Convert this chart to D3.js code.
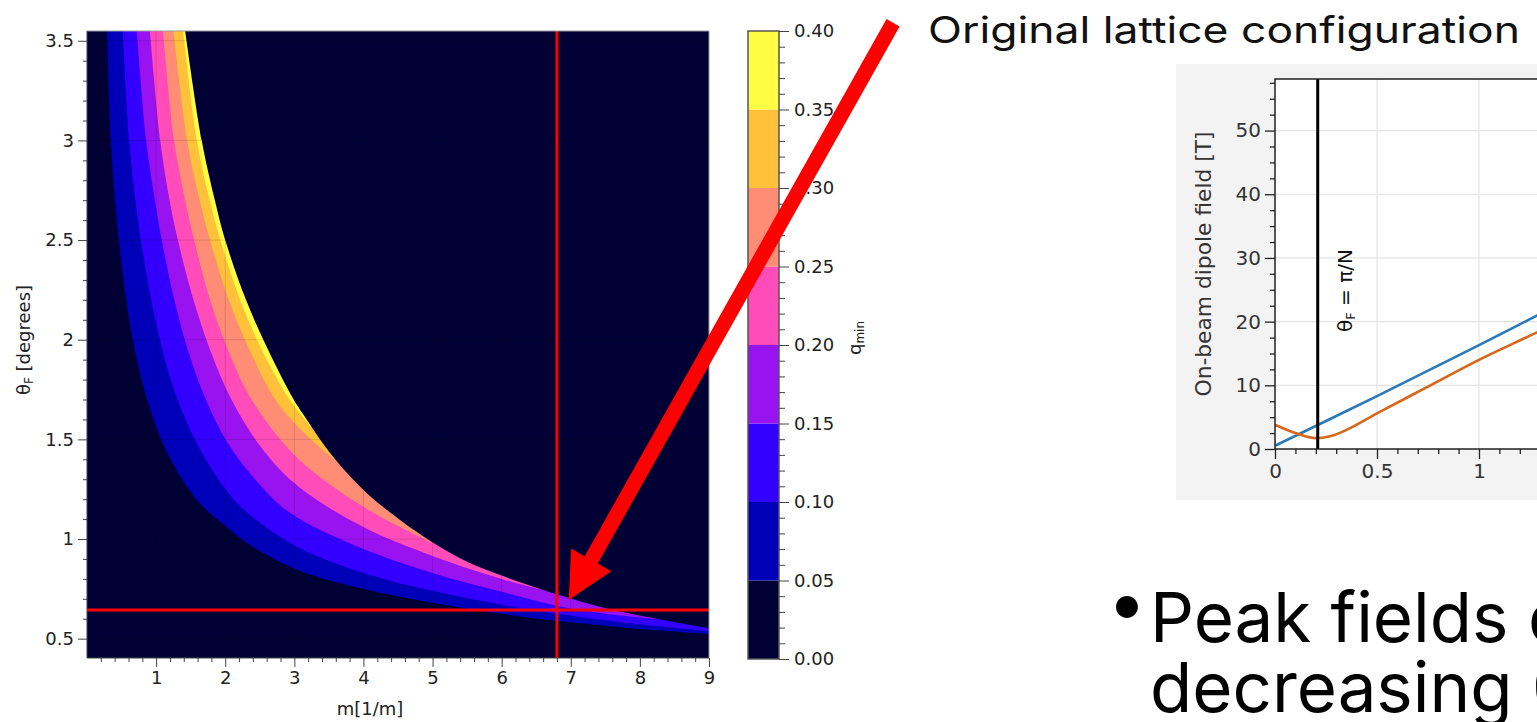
<!DOCTYPE html>
<html>
<head>
<meta charset="utf-8">
<script src="https://cdn.jsdelivr.net/npm/d3@7"></script>
<style>
    body { margin: 0; background: #fff; overflow: hidden; }
    svg { display: block; }
</style>
</head>
<body>
<div id="chart"></div>
<script>
// ---- data ----
// contour levels of q_min and the m/theta boundary of each band (m [1/m], theta_F [deg])
let qLevels = [0, 0.05, 0.10, 0.15, 0.20, 0.25, 0.30, 0.35, 0.40];
let q05 = [[0.29,3.55],[0.345,3.0],[0.405,2.7],[0.46,2.5],[0.567,2.2],[0.69,1.95],[0.87,1.70],[1.135,1.45],[1.58,1.2],[2.02,1.06],[2.36,0.97],[3.08,0.841],[4.0,0.75],[5.0,0.68],[6.0,0.625],[6.8,0.59],[7.8,0.555],[9.0,0.523]];
let q10 = [[0.517,3.55],[0.61,3.0],[0.70,2.7],[0.78,2.5],[0.93,2.2],[1.09,1.95],[1.31,1.70],[1.635,1.45],[2.12,1.2],[2.55,1.07],[3.08,0.954],[4.0,0.83],[5.0,0.74],[6.0,0.67],[6.8,0.625],[7.8,0.58],[9.0,0.538]];
let q15 = [[0.72,3.55],[0.857,3.0],[0.983,2.7],[1.083,2.5],[1.263,2.2],[1.458,1.95],[1.72,1.70],[2.095,1.45],[2.70,1.2],[3.06,1.104],[4.0,0.95],[5.0,0.83],[6.0,0.735],[6.8,0.665],[7.5,0.625],[8.2,0.60]];
let q20 = [[0.91,3.55],[1.06,3.0],[1.195,2.7],[1.315,2.5],[1.54,2.2],[1.78,1.95],[2.09,1.70],[2.54,1.45],[3.06,1.263],[4.0,1.06],[5.0,0.915],[6.0,0.80],[6.6,0.745]];
let q25 = [[1.10,3.55],[1.26,3.0],[1.42,2.7],[1.55,2.5],[1.78,2.2],[2.04,1.95],[2.38,1.70],[2.93,1.447],[3.45,1.29],[4.2,1.12],[5.0,0.98]];
let q30 = [[1.25,3.55],[1.45,3.0],[1.63,2.7],[1.78,2.5],[2.05,2.2],[2.35,1.95],[2.725,1.70],[3.05,1.564],[3.40,1.45],[3.65,1.38]];
let q35 = [[1.39,3.55],[1.59,3.0],[1.775,2.7],[1.93,2.5],[2.215,2.2],[2.53,1.95],[2.93,1.70],[3.24,1.565]];
// edge of the valid region (upper right is empty)
let cutoff = [[1.42,3.55],[1.66,3.0],[1.85,2.7],[2.0,2.5],[2.30,2.2],[2.62,1.95],[2.99,1.70],[3.12,1.63],[3.56,1.413],[4.05,1.23],[4.53,1.096],[5.02,0.979],[5.50,0.886],[5.98,0.819],[6.46,0.761],[6.94,0.708],[7.42,0.66],[7.91,0.622],[8.39,0.59],[9.0,0.553]];
let contours = [q05, q10, q15, q20, q25, q30, q35];

// original lattice point
let mOrig = 6.8;
let thetaOrig = 0.644;
let arrowTip = [6.97, 0.694];

let mTicks = [1, 2, 3, 4, 5, 6, 7, 8, 9];
let thetaTicks = [0.5, 1, 1.5, 2, 2.5, 3, 3.5];
let qTicks = [0, 0.05, 0.10, 0.15, 0.20, 0.25, 0.30, 0.35, 0.40];

// inset: on-beam dipole field vs theta_F
let blueX = [0, 0.25, 0.5, 0.75, 1.0, 1.25, 1.5];
let blueField = [0.5, 4.4, 8.3, 12.3, 16.3, 20.4, 24.5];
let orangeX = [0, 0.1, 0.2, 0.27, 0.35, 0.5, 0.75, 1.0, 1.25, 1.5];
let orangeField = [3.8, 2.5, 1.7, 2.0, 3.0, 5.6, 9.8, 14.0, 17.8, 21.6];
let piOverN = Math.PI / 15;
let insetXTicks = [0, 0.5, 1];
let insetYTicks = [0, 10, 20, 30, 40, 50];

let bandColors = ["#000035", "#0000b8", "#3300ff", "#9913f0", "#ff4cb8", "#ff8c75", "#ffc13a", "#fffc43"];

// ---- svg ----
let width = 1537, height = 722;
let svg = d3.select("#chart").append("svg").attr("width", width).attr("height", height)
            .style("font-family", "'DejaVu Sans', sans-serif");

// ---------- left contour plot ----------
let xScale = d3.scaleLinear().domain([0, 9]).range([87, 709]);
let yScale = d3.scaleLinear().domain([0.403, 3.549]).range([658, 31]);

svg.append("clipPath").attr("id", "plotClip").append("rect")
    .attr("x", 87).attr("y", 31).attr("width", 622).attr("height", 627);

let plot = svg.append("g").attr("clip-path", "url(#plotClip)");

plot.append("rect").attr("x", 87).attr("y", 31).attr("width", 622).attr("height", 627)
    .attr("fill", bandColors[0]);

let contourLine = d3.line().x(d => xScale(d[0])).y(d => yScale(d[1])).curve(d3.curveCatmullRom.alpha(0.5));

function regionPath(pts) {
    let first = pts[0], last = pts[pts.length - 1];
    return contourLine(pts) +
        `L${xScale(9.4)},${yScale(last[1])}L${xScale(9.4)},${yScale(3.9)}L${xScale(first[0])},${yScale(3.9)}Z`;
}

plot.selectAll("path.band").data(contours).enter().append("path")
    .attr("class", "band")
    .attr("d", d => regionPath(d))
    .attr("fill", (d, i) => bandColors[i + 1]);

plot.append("path").attr("d", regionPath(cutoff)).attr("fill", bandColors[0]);

// faint grid
plot.selectAll("line.vg").data(mTicks).enter().append("line")
    .attr("x1", d => xScale(d)).attr("x2", d => xScale(d)).attr("y1", 31).attr("y2", 658)
    .attr("stroke", "#000").attr("stroke-opacity", 0.13);
plot.selectAll("line.hg").data(thetaTicks).enter().append("line")
    .attr("x1", 87).attr("x2", 709).attr("y1", d => yScale(d)).attr("y2", d => yScale(d))
    .attr("stroke", "#000").attr("stroke-opacity", 0.13);

// red lines for the original lattice
plot.append("line").attr("x1", 87).attr("x2", 709)
    .attr("y1", yScale(thetaOrig)).attr("y2", yScale(thetaOrig))
    .attr("stroke", "#ff0000").attr("stroke-width", 3);
plot.append("line").attr("x1", xScale(mOrig)).attr("x2", xScale(mOrig))
    .attr("y1", 31).attr("y2", 658)
    .attr("stroke", "#ff0000").attr("stroke-width", 3);

// frame
svg.append("path").attr("d", "M87,31H709V658").attr("fill", "none").attr("stroke", "#999");

// axes
let xMinor = d3.range(1, 45).map(k => k / 5).filter(v => Math.abs(v - Math.round(v)) > 1e-6);
let yMinor = d3.range(6, 36).map(k => k / 10).filter(v => Math.abs(v * 2 - Math.round(v * 2)) > 1e-6);

let xAxis = d3.axisBottom(xScale).tickValues(mTicks).tickSize(9).tickPadding(4).tickFormat(d => d);
let xAxisMinor = d3.axisBottom(xScale).tickValues(xMinor).tickSize(4).tickFormat("");
let yAxis = d3.axisLeft(yScale).tickValues(thetaTicks).tickSize(9).tickPadding(4).tickFormat(d => d);
let yAxisMinor = d3.axisLeft(yScale).tickValues(yMinor).tickSize(4).tickFormat("");

let gx = svg.append("g").attr("transform", "translate(0,658)").call(xAxis);
svg.append("g").attr("transform", "translate(0,658)").call(xAxisMinor);
let gy = svg.append("g").attr("transform", "translate(87,0)").call(yAxis);
svg.append("g").attr("transform", "translate(87,0)").call(yAxisMinor);

svg.selectAll(".domain").attr("stroke", "#444");
svg.selectAll(".tick line").attr("stroke", "#444");
svg.selectAll(".tick text").attr("fill", "#222").style("font-size", "18px").style("font-family", "'DejaVu Sans', sans-serif");

// axis titles
svg.append("text").attr("x", 370).attr("y", 715).attr("text-anchor", "middle")
    .style("font-size", "18px").attr("fill", "#222").text("m[1/m]");

let yTitle = svg.append("text").attr("transform", "translate(30,340) rotate(-90)")
    .attr("text-anchor", "middle").style("font-size", "18px").attr("fill", "#222");
yTitle.append("tspan").text("θ");
yTitle.append("tspan").attr("baseline-shift", "-25%").style("font-size", "12px").text("F");
yTitle.append("tspan").text(" [degrees]");

// ---------- colorbar ----------
let cScale = d3.scaleLinear().domain([0, 0.4]).range([659, 31]);
let bands = d3.range(qLevels.length - 1);

svg.selectAll("rect.cb").data(bands).enter().append("rect")
    .attr("class", "cb")
    .attr("x", 748).attr("width", 31)
    .attr("y", i => cScale(qLevels[i + 1]))
    .attr("height", i => cScale(qLevels[i]) - cScale(qLevels[i + 1]))
    .attr("fill", i => bandColors[i]);

svg.append("rect").attr("x", 748).attr("y", 31).attr("width", 31).attr("height", 628)
    .attr("fill", "none").attr("stroke", "#555").attr("stroke-width", 1.5);

let cMinor = d3.range(1, 40).map(k => k / 100).filter((v, i) => (i + 1) % 5 !== 0);
let cAxis = d3.axisRight(cScale).tickValues(qTicks).tickSize(10).tickPadding(5).tickFormat(d3.format(".2f"));
let cAxisMinor = d3.axisRight(cScale).tickValues(cMinor).tickSize(6).tickFormat("");
let gc = svg.append("g").attr("transform", "translate(779,0)").call(cAxis);
svg.append("g").attr("transform", "translate(779,0)").call(cAxisMinor);
svg.selectAll(".domain").remove();
svg.selectAll(".tick line").attr("stroke", "#444");
gc.selectAll(".tick text").attr("fill", "#222").style("font-size", "18px").style("font-family", "'DejaVu Sans', sans-serif");

let cTitle = svg.append("text").attr("transform", "translate(861,338) rotate(-90)")
    .attr("text-anchor", "middle").style("font-size", "18px").attr("fill", "#222");
cTitle.append("tspan").text("q");
cTitle.append("tspan").attr("baseline-shift", "-25%").style("font-size", "12px").text("min");

// redraw plot axis lines (domains removed above)
svg.append("path").attr("d", "M87,31V658H709").attr("fill", "none").attr("stroke", "#444");

// ---------- red arrow ----------
let tip = [xScale(arrowTip[0]), yScale(arrowTip[1])];
let u = [0.49, -0.872], n = [0.872, 0.49];
function pt(s, t) { return [tip[0] + u[0] * s + n[0] * t, tip[1] + u[1] * s + n[1] * t]; }
let arrowPts = [pt(0, 0), pt(46, 23), pt(46, 7.5), pt(662, 7.5), pt(662, -7.5), pt(46, -7.5), pt(46, -23)];
svg.append("polygon").attr("points", arrowPts.map(p => p.join(",")).join(" ")).attr("fill", "#ff0000");

// ---------- slide text ----------
svg.append("text").attr("x", 928).attr("y", 43)
    .attr("textLength", 592).attr("lengthAdjust", "spacingAndGlyphs")
    .style("font-family", "Inter, 'Noto Sans', sans-serif").style("font-size", "37px")
    .attr("fill", "#111").text("Original lattice configuration");

// ---------- inset figure ----------
svg.append("rect").attr("x", 1176).attr("y", 64).attr("width", 400).attr("height", 436).attr("fill", "#f3f3f3");

let ix = d3.scaleLinear().domain([0, 1.5]).range([1275, 1581]);
let iy = d3.scaleLinear().domain([0, 58.1]).range([449, 79]);

svg.append("clipPath").attr("id", "insetClip").append("rect")
    .attr("x", 1275).attr("y", 79).attr("width", 320).attr("height", 370);

let inset = svg.append("g").attr("clip-path", "url(#insetClip)");
inset.append("rect").attr("x", 1275).attr("y", 79).attr("width", 320).attr("height", 370).attr("fill", "#fff");

inset.selectAll("line.ivg").data(insetXTicks.slice(1)).enter().append("line")
    .attr("x1", d => ix(d)).attr("x2", d => ix(d)).attr("y1", 79).attr("y2", 449)
    .attr("stroke", "#e4e4e4").attr("stroke-width", 1.2);
inset.selectAll("line.ihg").data(insetYTicks.slice(1)).enter().append("line")
    .attr("x1", 1275).attr("x2", 1600).attr("y1", d => iy(d)).attr("y2", d => iy(d))
    .attr("stroke", "#e4e4e4").attr("stroke-width", 1.2);

let fieldLine = d3.line().x(d => ix(d[0])).y(d => iy(d[1])).curve(d3.curveMonotoneX);
inset.append("path").attr("d", fieldLine(blueX.map((x, i) => [x, blueField[i]])))
    .attr("fill", "none").attr("stroke", "#2a7ab8").attr("stroke-width", 2.6);
inset.append("path").attr("d", fieldLine(orangeX.map((x, i) => [x, orangeField[i]])))
    .attr("fill", "none").attr("stroke", "#d8661d").attr("stroke-width", 2.6);

inset.append("line").attr("x1", ix(piOverN)).attr("x2", ix(piOverN)).attr("y1", 79).attr("y2", 449)
    .attr("stroke", "#000").attr("stroke-width", 3);

let thLabel = svg.append("text").attr("transform", `translate(${ix(piOverN) + 34},332) rotate(-90)`)
    .style("font-size", "20px").attr("fill", "#111");
thLabel.append("tspan").text("θ");
thLabel.append("tspan").attr("baseline-shift", "-25%").style("font-size", "13px").text("F");
thLabel.append("tspan").text(" = π/N");

svg.append("path").attr("d", "M1600,79H1275V449H1600").attr("fill", "none").attr("stroke", "#222").attr("stroke-width", 1.5);

let iyMinor = d3.range(1, 24).map(k => k * 2.5).filter(v => v % 10 !== 0);
let ixMinor = d3.range(1, 13).map(k => k / 10).filter(v => Math.abs(v * 2 - Math.round(v * 2)) > 1e-6);

let ixAxis = d3.axisBottom(ix).tickValues(insetXTicks).tickSize(10).tickPadding(5).tickFormat(d => d);
let ixAxisMinor = d3.axisBottom(ix).tickValues(ixMinor).tickSize(5).tickFormat("");
let iyAxis = d3.axisLeft(iy).tickValues(insetYTicks).tickSize(10).tickPadding(4).tickFormat(d => d);
let iyAxisMinor = d3.axisLeft(iy).tickValues(iyMinor).tickSize(5).tickFormat("");

let gix = svg.append("g").attr("transform", "translate(0,449)").call(ixAxis);
let gixm = svg.append("g").attr("transform", "translate(0,449)").call(ixAxisMinor);
let giy = svg.append("g").attr("transform", "translate(1275,0)").call(iyAxis);
let giym = svg.append("g").attr("transform", "translate(1275,0)").call(iyAxisMinor);
[gix, gixm, giy, giym].forEach(g => {
    g.select(".domain").remove();
    g.selectAll(".tick line").attr("stroke", "#222").attr("stroke-width", 1.3);
    g.selectAll(".tick text").attr("fill", "#333").style("font-size", "20px").style("font-family", "'DejaVu Sans', sans-serif");
});

svg.append("text").attr("transform", "translate(1211,264) rotate(-90)")
    .attr("text-anchor", "middle").attr("textLength", 265).attr("lengthAdjust", "spacingAndGlyphs")
    .style("font-size", "21px").attr("fill", "#333").text("On-beam dipole field [T]");

// ---------- bullet text ----------
let bodyFont = "Inter, 'Noto Sans', sans-serif";
svg.append("text").attr("x", 1127).attr("y", 627).attr("text-anchor", "middle")
    .style("font-family", bodyFont).style("font-size", "70px").attr("fill", "#000").text("•");
svg.append("text").attr("x", 1150).attr("y", 642)
    .style("font-family", bodyFont).style("font-size", "69px").attr("fill", "#000").text("Peak fields drop with");
svg.append("text").attr("x", 1150).attr("y", 712)
    .style("font-family", bodyFont).style("font-size", "69px").attr("fill", "#000").text("decreasing θ");
</script>
</body>
</html>
